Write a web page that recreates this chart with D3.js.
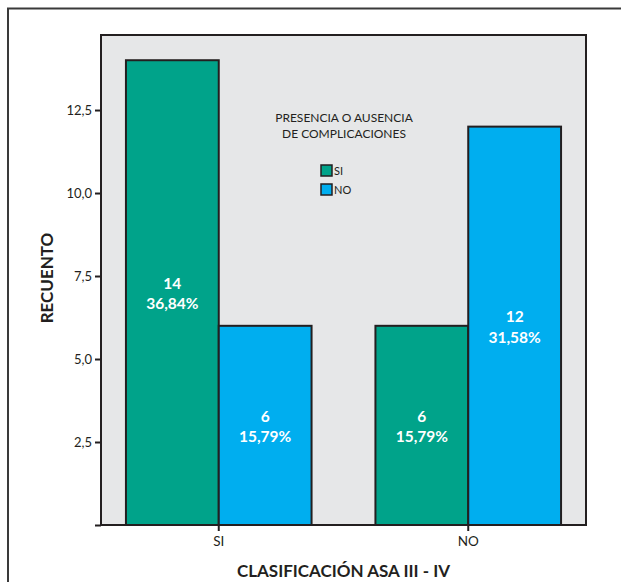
<!DOCTYPE html>
<html>
<head>
<meta charset="utf-8">
<script src="https://cdn.jsdelivr.net/npm/d3@7/dist/d3.min.js"></script>
<style>
  html, body { margin: 0; padding: 0; background: #fff; }
  svg { display: block; font-family: Lato, "Open Sans", sans-serif; }
</style>
</head>
<body>
<svg id="chart" width="621" height="582"></svg>
<script>
// Counts by ASA III-IV classification, split by presence of complications
const categories = ["SI", "NO"];
const seriesNames = ["SI", "NO"];
const seriesColors = ["#00a38a", "#00aeef"];
const countsSI = [14, 6];      // complications = SI
const countsNO = [6, 12];      // complications = NO
const percentSI = ["36,84%", "15,79%"];
const percentNO = ["15,79%", "31,58%"];
const yTicks = [0, 2.5, 5.0, 7.5, 10.0, 12.5];

const svg = d3.select("#chart");
const W = 621, H = 582;
const plot = { left: 101, right: 586, top: 35, bottom: 525 };

// outer frame (extends past the bottom/right edges)
svg.append("rect")
  .attr("x", 8).attr("y", 8.5)
  .attr("width", W + 10).attr("height", H + 10)
  .attr("fill", "#fff").attr("stroke", "#3a3a3a").attr("stroke-width", 2);

// plot background
svg.append("rect")
  .attr("x", plot.left).attr("y", plot.top)
  .attr("width", plot.right - plot.left).attr("height", plot.bottom - plot.top)
  .attr("fill", "#e6e7e8");

const x = d3.scaleBand().domain(categories)
  .range([plot.left, plot.right]).paddingInner(0.256).paddingOuter(0.1);
const xs = d3.scaleBand().domain(seriesNames).range([0, x.bandwidth()]);
const y = d3.scaleLinear().domain([0, 14.76]).range([plot.bottom, plot.top]);

const rows = categories.map((c, i) => ({
  cat: c,
  values: [
    { s: seriesNames[0], v: countsSI[i], p: percentSI[i], color: seriesColors[0] },
    { s: seriesNames[1], v: countsNO[i], p: percentNO[i], color: seriesColors[1] }
  ]
}));

const groups = svg.selectAll("g.grp").data(rows).join("g")
  .attr("class", "grp")
  .attr("transform", d => `translate(${x(d.cat)},0)`);

groups.selectAll("rect").data(d => d.values).join("rect")
  .attr("x", d => xs(d.s))
  .attr("y", d => y(d.v))
  .attr("width", xs.bandwidth())
  .attr("height", d => y(0) - y(d.v))
  .attr("fill", d => d.color)
  .attr("stroke", "#231f20").attr("stroke-width", 2);

// value + percentage labels centred in each bar
const lab = groups.selectAll("text.val").data(d => d.values).join("text")
  .attr("class", "val")
  .attr("x", d => xs(d.s) + xs.bandwidth() / 2)
  .attr("y", d => (y(d.v) + y(0)) / 2)
  .attr("text-anchor", "middle")
  .attr("fill", "#fff")
  .attr("font-weight", "bold")
  .attr("font-size", 15.5);
lab.append("tspan").attr("x", d => xs(d.s) + xs.bandwidth() / 2).attr("dy", "-0.22em").text(d => d.v);
lab.append("tspan").attr("x", d => xs(d.s) + xs.bandwidth() / 2).attr("dy", "1.3em").text(d => d.p);

// plot border
svg.append("rect")
  .attr("x", plot.left).attr("y", plot.top)
  .attr("width", plot.right - plot.left).attr("height", plot.bottom - plot.top)
  .attr("fill", "none").attr("stroke", "#231f20").attr("stroke-width", 2);

// y axis
const yAxis = d3.axisLeft(y).tickValues(yTicks).tickSize(6).tickPadding(3)
  .tickFormat(d => d === 0 ? "" : d3.format(".1f")(d).replace(".", ","));
const gy = svg.append("g").attr("transform", `translate(${plot.left},0)`).call(yAxis);
gy.select(".domain").remove();
gy.selectAll(".tick line").attr("stroke", "#231f20").attr("stroke-width", 2);
gy.selectAll(".tick text").attr("font-size", 13).attr("fill", "#231f20")
  .attr("font-family", "Lato, sans-serif");

// x axis
const xAxis = d3.axisBottom(x).tickSize(6).tickPadding(5);
const gx = svg.append("g").attr("transform", `translate(0,${plot.bottom})`).call(xAxis);
gx.select(".domain").remove();
gx.selectAll(".tick line").attr("stroke", "#231f20").attr("stroke-width", 2);
gx.selectAll(".tick text").attr("font-size", 13.5).attr("fill", "#231f20")
  .attr("font-family", "Lato, sans-serif");

// axis titles
svg.append("text")
  .attr("x", (plot.left + plot.right) / 2).attr("y", 577)
  .attr("text-anchor", "middle").attr("font-weight", "bold").attr("font-size", 17)
  .attr("fill", "#231f20").text("CLASIFICACIÓN ASA III - IV");
svg.append("text")
  .attr("transform", `translate(53,${(plot.top + plot.bottom) / 2 - 2}) rotate(-90)`)
  .attr("text-anchor", "middle").attr("font-weight", "bold").attr("font-size", 17)
  .attr("fill", "#231f20").text("RECUENTO");

// legend
const lg = svg.append("g");
lg.append("text").attr("x", 344).attr("y", 122).attr("text-anchor", "middle")
  .attr("font-size", 12).attr("fill", "#231f20").text("PRESENCIA O AUSENCIA");
lg.append("text").attr("x", 344).attr("y", 138).attr("text-anchor", "middle")
  .attr("font-size", 12).attr("fill", "#231f20").text("DE COMPLICACIONES");
const items = lg.selectAll("g.item").data(seriesNames).join("g")
  .attr("class", "item")
  .attr("transform", (d, i) => `translate(321,${165 + i * 19})`);
items.append("rect").attr("width", 11).attr("height", 11)
  .attr("fill", (d, i) => seriesColors[i]).attr("stroke", "#231f20").attr("stroke-width", 1.5);
items.append("text").attr("x", 13).attr("y", 10).attr("font-size", 11)
  .attr("fill", "#231f20").text(d => d);
</script>
</body>
</html>
